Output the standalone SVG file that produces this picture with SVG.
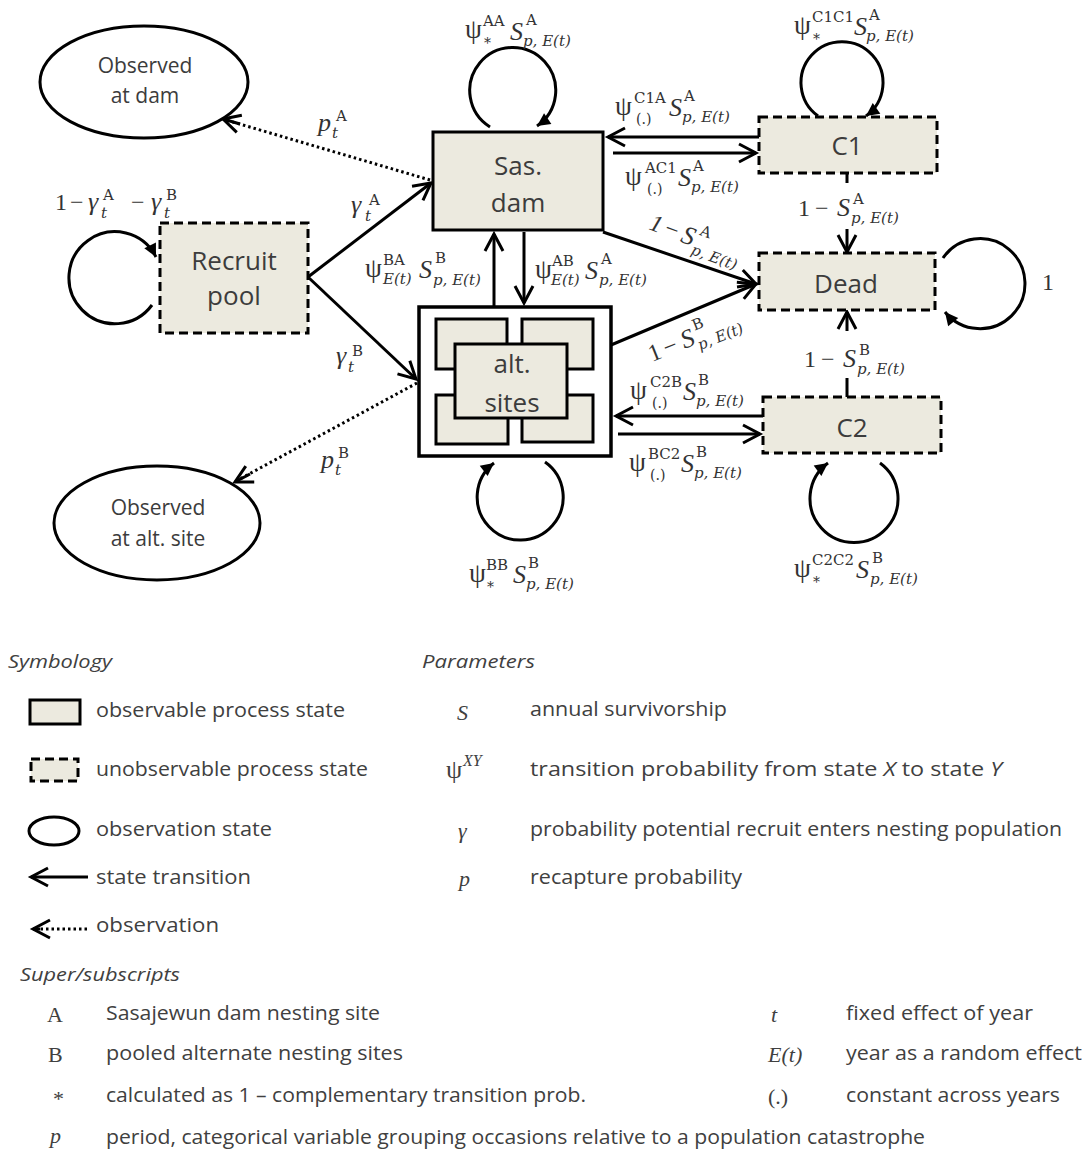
<svg xmlns="http://www.w3.org/2000/svg" width="1084" height="1154" viewBox="0 0 1084 1154">
<style>
.node{fill:#ECEADF;stroke:#000;stroke-width:3}
.dash{stroke-dasharray:9 5}
.ell{fill:#fff;stroke:#000;stroke-width:3}
.nt{font-family:"Open Sans","Noto Sans",sans-serif;font-size:26px;fill:#3c3c3c;text-anchor:middle}
.ot{font-family:"Open Sans","Noto Sans",sans-serif;font-size:21px;fill:#3c3c3c;text-anchor:middle}
.con{fill:none;stroke:#000;stroke-width:3}
.dot{fill:none;stroke:#000;stroke-width:3;stroke-dasharray:2.5 3}
.m{font-family:"Liberation Serif",serif;font-size:24px;fill:#333}
.psi{font-family:"Liberation Serif",serif;font-size:27px;font-style:normal}
.mi{font-family:"Liberation Serif",serif;font-size:26px;font-style:italic}
.sp{font-family:"DejaVu Serif",serif;font-size:15px;font-style:normal}
.sb{font-family:"DejaVu Serif",serif;font-size:15px;font-style:italic}
.su{font-family:"DejaVu Serif",serif;font-size:14px;font-style:normal}
.lh{font-family:"Open Sans","Noto Sans",sans-serif;font-size:19px;font-style:italic;fill:#404040}
.lt{font-family:"Open Sans","Noto Sans",sans-serif;font-size:20px;fill:#404040}
.ls{font-family:"Liberation Serif",serif;font-size:22px;fill:#404040}
.lsi{font-family:"Liberation Serif",serif;font-size:22px;font-style:italic;fill:#404040}
</style>
<defs>
<marker id="ah" viewBox="-20 -12 24 24" refX="0" refY="0" markerWidth="24" markerHeight="24" markerUnits="userSpaceOnUse" orient="auto">
<path d="M-17,-9 L0,0 L-17,9" fill="none" stroke="#000" stroke-width="3"/>
</marker>
<marker id="lh" viewBox="-14 -8 16 16" refX="0" refY="0" markerWidth="16" markerHeight="16" markerUnits="userSpaceOnUse" orient="auto">
<path d="M-13,-6.5 L0,0 L-13,6.5 Z" fill="#000"/>
</marker>
</defs>
<rect width="1084" height="1154" fill="#fff"/>

<g id="connectors">
<path class="con" d="M308,277 L431,183" marker-end="url(#ah)"/>
<path class="con" d="M308,277 L416,379" marker-end="url(#ah)"/>
<path class="dot" d="M430,180 L226,120"/>
<path class="con" d="M240,124 L223,119" marker-end="url(#ah)" stroke="none"/>
<path class="dot" d="M417,383 L238,480"/>
<path class="con" d="M250,474 L235,482" marker-end="url(#ah)" stroke="none"/>
<path class="con" d="M524,232 L524,303" marker-end="url(#ah)"/>
<path class="con" d="M494,307 L494,234" marker-end="url(#ah)"/>
<path class="con" d="M759,137 L608,137" marker-end="url(#ah)"/>
<path class="con" d="M613,153 L756,153" marker-end="url(#ah)"/>
<path class="con" d="M603,232 L756,284" marker-end="url(#ah)"/>
<path class="con" d="M611,345 L756,284" marker-end="url(#ah)"/>
<path class="con" d="M763,416 L616,416" marker-end="url(#ah)"/>
<path class="con" d="M618,434 L760,434" marker-end="url(#ah)"/>
<path class="con" d="M847,174 L847,183 M847,229 L847,252" marker-end="url(#ah)"/>
<path class="con" d="M847,397 L847,378 M847,331 L847,312" marker-end="url(#ah)"/>
<path class="con" d="M490,127 A43,43 0 1,1 537,126" marker-end="url(#lh)"/>
<path class="con" d="M818,116 A41,41 0 1,1 866,116" marker-end="url(#lh)"/>
<path class="con" d="M152,305 A46,46 0 1,1 156,257" marker-end="url(#lh)"/>
<path class="con" d="M943,258 A45,45 0 1,1 945,312" marker-end="url(#lh)"/>
<path class="con" d="M545,462 A43,43 0 1,1 494,463" marker-end="url(#lh)"/>
<path class="con" d="M880,463 A44,44 0 1,1 828,463" marker-end="url(#lh)"/>
</g>

<g id="node-obs-dam">
<ellipse class="ell" cx="144" cy="82" rx="104" ry="56"/>
<text class="ot" x="145" y="73">Observed</text>
<text class="ot" x="145" y="103">at dam</text>
</g>
<g id="node-obs-alt">
<ellipse class="ell" cx="157" cy="523" rx="103" ry="57"/>
<text class="ot" x="158" y="515">Observed</text>
<text class="ot" x="158" y="546">at alt. site</text>
</g>
<g id="node-recruit">
<rect class="node dash" x="160" y="223" width="148" height="110"/>
<text class="nt" x="234" y="270">Recruit</text>
<text class="nt" x="234" y="305">pool</text>
</g>
<g id="node-sasdam">
<rect class="node" x="433" y="132" width="170" height="98"/>
<text class="nt" x="518" y="175">Sas.</text>
<text class="nt" x="518" y="212">dam</text>
</g>
<g id="node-altsites">
<rect x="419" y="307" width="192" height="149" fill="#fff" stroke="#000" stroke-width="3.5"/>
<rect class="node" x="436" y="319" width="71" height="50"/>
<rect class="node" x="522" y="319" width="71" height="50"/>
<rect class="node" x="436" y="395" width="72" height="49"/>
<rect class="node" x="522" y="395" width="71" height="47"/>
<rect class="node" x="455" y="344" width="112" height="74"/>
<text class="nt" x="512" y="373">alt.</text>
<text class="nt" x="512" y="412">sites</text>
</g>
<g id="node-c1">
<rect class="node dash" x="759" y="117" width="178" height="56"/>
<text class="nt" x="847" y="155">C1</text>
</g>
<g id="node-dead">
<rect class="node dash" x="759" y="253" width="176" height="57"/>
<text class="nt" x="846" y="293">Dead</text>
</g>
<g id="node-c2">
<rect class="node dash" x="763" y="397" width="178" height="56"/>
<text class="nt" x="852" y="437">C2</text>
</g>

<g id="labels">
<text id="lbl-AA" class="m"><tspan class="psi" x="465" y="38">ψ</tspan><tspan class="sp" x="483" y="26">AA</tspan><tspan class="su" x="484" y="48">*</tspan><tspan class="mi" x="510" y="40">S</tspan><tspan class="sp" x="526" y="25">A</tspan><tspan class="sb" x="523" y="46">p, E(t)</tspan></text>
<text id="lbl-C1C1" class="m"><tspan class="psi" x="794" y="34">ψ</tspan><tspan class="sp" x="812" y="22">C1C1</tspan><tspan class="su" x="813" y="44">*</tspan><tspan class="mi" x="854" y="35">S</tspan><tspan class="sp" x="869" y="20">A</tspan><tspan class="sb" x="866" y="41">p, E(t)</tspan></text>
<text id="lbl-C1A" class="m"><tspan class="psi" x="615" y="115">ψ</tspan><tspan class="sp" x="634" y="103">C1A</tspan><tspan class="su" x="636" y="124">(.)</tspan><tspan class="mi" x="669" y="116">S</tspan><tspan class="sp" x="684" y="101">A</tspan><tspan class="sb" x="682" y="122">p, E(t)</tspan></text>
<text id="lbl-AC1" class="m"><tspan class="psi" x="625" y="185">ψ</tspan><tspan class="sp" x="645" y="173">AC1</tspan><tspan class="su" x="647" y="194">(.)</tspan><tspan class="mi" x="678" y="186">S</tspan><tspan class="sp" x="693" y="171">A</tspan><tspan class="sb" x="691" y="192">p, E(t)</tspan></text>
<text id="lbl-BA" class="m"><tspan class="psi" x="365" y="277">ψ</tspan><tspan class="sp" x="383" y="265">BA</tspan><tspan class="sb" x="383" y="284">E(t)</tspan><tspan class="mi" x="419" y="278">S</tspan><tspan class="sp" x="435" y="263">B</tspan><tspan class="sb" x="433" y="285">p, E(t)</tspan></text>
<text id="lbl-AB" class="m"><tspan class="psi" x="535" y="278">ψ</tspan><tspan class="sp" x="552" y="266">AB</tspan><tspan class="sb" x="551" y="285">E(t)</tspan><tspan class="mi" x="585" y="279">S</tspan><tspan class="sp" x="601" y="264">A</tspan><tspan class="sb" x="599" y="285">p, E(t)</tspan></text>
<text id="lbl-C2B" class="m"><tspan class="psi" x="630" y="399">ψ</tspan><tspan class="sp" x="650" y="387">C2B</tspan><tspan class="su" x="652" y="408">(.)</tspan><tspan class="mi" x="683" y="400">S</tspan><tspan class="sp" x="698" y="385">B</tspan><tspan class="sb" x="696" y="406">p, E(t)</tspan></text>
<text id="lbl-BC2" class="m"><tspan class="psi" x="629" y="471">ψ</tspan><tspan class="sp" x="648" y="459">BC2</tspan><tspan class="su" x="650" y="480">(.)</tspan><tspan class="mi" x="681" y="472">S</tspan><tspan class="sp" x="696" y="457">B</tspan><tspan class="sb" x="694" y="478">p, E(t)</tspan></text>
<text id="lbl-BB" class="m"><tspan class="psi" x="469" y="582">ψ</tspan><tspan class="sp" x="486" y="570">BB</tspan><tspan class="su" x="487" y="592">*</tspan><tspan class="mi" x="513" y="583">S</tspan><tspan class="sp" x="528" y="568">B</tspan><tspan class="sb" x="526" y="589">p, E(t)</tspan></text>
<text id="lbl-C2C2" class="m"><tspan class="psi" x="794" y="577">ψ</tspan><tspan class="sp" x="812" y="565">C2C2</tspan><tspan class="su" x="813" y="587">*</tspan><tspan class="mi" x="856" y="578">S</tspan><tspan class="sp" x="872" y="563">B</tspan><tspan class="sb" x="870" y="584">p, E(t)</tspan></text>
<text id="lbl-C1dead" class="m"><tspan x="798" y="216">1</tspan><tspan x="815" y="216">−</tspan><tspan class="mi" x="837" y="216">S</tspan><tspan class="sp" x="853" y="204">A</tspan><tspan class="sb" x="851" y="223">p, E(t)</tspan></text>
<text id="lbl-C2dead" class="m"><tspan x="804" y="367">1</tspan><tspan x="821" y="367">−</tspan><tspan class="mi" x="843" y="367">S</tspan><tspan class="sp" x="859" y="355">B</tspan><tspan class="sb" x="857" y="374">p, E(t)</tspan></text>
<text id="lbl-damdead" class="m" transform="translate(648,229) rotate(20)"><tspan font-style="italic" x="0" y="0">1</tspan><tspan x="16" y="0">−</tspan><tspan class="mi" x="34" y="1">S</tspan><tspan class="sp" x="50" y="-12">A</tspan><tspan class="sb" x="48" y="9">p, E(t)</tspan></text>
<text id="lbl-altdead" class="m" transform="translate(652,362) rotate(-22)"><tspan x="0" y="0">1</tspan><tspan x="16" y="0">−</tspan><tspan class="mi" x="35" y="0">S</tspan><tspan class="sp" x="51" y="-13">B</tspan><tspan class="sb" x="49" y="7">p, E(t)</tspan></text>
<text id="lbl-pA" class="m"><tspan class="mi" x="318" y="131">p</tspan><tspan class="sp" x="336" y="121">A</tspan><tspan class="sb" x="332" y="138">t</tspan></text>
<text id="lbl-pB" class="m"><tspan class="mi" x="321" y="468">p</tspan><tspan class="sp" x="338" y="458">B</tspan><tspan class="sb" x="335" y="475">t</tspan></text>
<text id="lbl-gA" class="m"><tspan class="mi" x="351" y="213">γ</tspan><tspan class="sp" x="369" y="205">A</tspan><tspan class="sb" x="365" y="221">t</tspan></text>
<text id="lbl-gB" class="m"><tspan class="mi" x="336" y="364">γ</tspan><tspan class="sp" x="352" y="356">B</tspan><tspan class="sb" x="348" y="372">t</tspan></text>
<text id="lbl-recruit" class="m"><tspan x="55" y="210">1</tspan><tspan x="70" y="210">−</tspan><tspan class="mi" x="88" y="210">γ</tspan><tspan class="sp" x="103" y="200">A</tspan><tspan class="sb" x="101" y="218">t</tspan><tspan x="131" y="210">−</tspan><tspan class="mi" x="151" y="210">γ</tspan><tspan class="sp" x="166" y="200">B</tspan><tspan class="sb" x="164" y="218">t</tspan></text>
<text id="lbl-dead" class="m" x="1042" y="290">1</text>
</g>

<g id="legend">
<text class="lh" x="8" y="668" textLength="104" lengthAdjust="spacingAndGlyphs">Symbology</text>
<text class="lh" x="422" y="668" textLength="113" lengthAdjust="spacingAndGlyphs">Parameters</text>
<rect class="node" x="30" y="700" width="50" height="24"/>
<text class="lt" x="96" y="717" textLength="249" lengthAdjust="spacingAndGlyphs">observable process state</text>
<rect class="node dash" x="31" y="759" width="47" height="22"/>
<text class="lt" x="96" y="776" textLength="272" lengthAdjust="spacingAndGlyphs">unobservable process state</text>
<ellipse class="ell" cx="54" cy="831" rx="25" ry="14"/>
<text class="lt" x="96" y="836" textLength="176" lengthAdjust="spacingAndGlyphs">observation state</text>
<path class="con" d="M88,877 L31,877" marker-end="url(#ah)"/>
<text class="lt" x="96" y="884" textLength="155" lengthAdjust="spacingAndGlyphs">state transition</text>
<path class="dot" d="M87,929 L38,929"/>
<path class="con" d="M40,929 L33,929" stroke="none" marker-end="url(#ah)"/>
<text class="lt" x="96" y="932" textLength="123" lengthAdjust="spacingAndGlyphs">observation</text>

<text class="lsi" x="457" y="720" font-size="24">S</text>
<text class="lt" x="530" y="716" textLength="197" lengthAdjust="spacingAndGlyphs">annual survivorship</text>
<text class="ls"><tspan x="446" y="778" font-size="26">ψ</tspan><tspan x="463" y="766" font-size="16" font-style="italic">XY</tspan></text>
<text class="lt" x="530" y="776" textLength="472" lengthAdjust="spacingAndGlyphs">transition probability from state <tspan font-style="italic">X</tspan> to state <tspan font-style="italic">Y</tspan></text>
<text class="lsi" x="458" y="838" font-size="24">γ</text>
<text class="lt" x="530" y="836" textLength="532" lengthAdjust="spacingAndGlyphs">probability potential recruit enters nesting population</text>
<text class="lsi" x="459" y="886" font-size="24">p</text>
<text class="lt" x="530" y="884" textLength="212" lengthAdjust="spacingAndGlyphs">recapture probability</text>

<text class="lh" x="20" y="981" textLength="160" lengthAdjust="spacingAndGlyphs">Super/subscripts</text>
<text class="ls" x="47" y="1022" font-size="24">A</text>
<text class="lt" x="106" y="1020" textLength="274" lengthAdjust="spacingAndGlyphs">Sasajewun dam nesting site</text>
<text class="ls" x="48" y="1062" font-size="24">B</text>
<text class="lt" x="106" y="1060" textLength="297" lengthAdjust="spacingAndGlyphs">pooled alternate nesting sites</text>
<text class="ls" x="53" y="1106">*</text>
<text class="lt" x="106" y="1102" textLength="480" lengthAdjust="spacingAndGlyphs">calculated as 1 – complementary transition prob.</text>
<text class="lsi" x="50" y="1143" font-size="24">p</text>
<text class="lt" x="106" y="1144" textLength="819" lengthAdjust="spacingAndGlyphs">period, categorical variable grouping occasions relative to a population catastrophe</text>
<text class="lsi" x="771" y="1022">t</text>
<text class="lsi" x="768" y="1062">E(t)</text>
<text class="ls" x="768" y="1104">(.)</text>
<text class="lt" x="846" y="1020" textLength="187" lengthAdjust="spacingAndGlyphs">fixed effect of year</text>
<text class="lt" x="846" y="1060" textLength="236" lengthAdjust="spacingAndGlyphs">year as a random effect</text>
<text class="lt" x="846" y="1102" textLength="214" lengthAdjust="spacingAndGlyphs">constant across years</text>
</g>
</svg>
